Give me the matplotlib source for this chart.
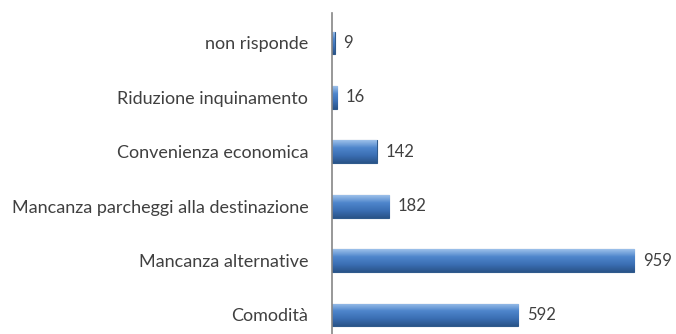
import numpy as np
import matplotlib.pyplot as plt
from matplotlib.colors import LinearSegmentedColormap

categories = [
    "non risponde",
    "Riduzione inquinamento",
    "Convenienza economica",
    "Mancanza parcheggi alla destinazione",
    "Mancanza alternative",
    "Comodità",
]
counts = [9, 16, 142, 182, 959, 592]

plt.rcParams["font.family"] = ["Lato", "DejaVu Sans"]

fig = plt.figure(figsize=(6.76, 3.34), dpi=100)
ax = fig.add_axes([0.491, 0.0, 0.509, 0.961])

y = np.arange(len(categories))
bar_h = 0.42

# vertical shading for the bars: light top, darker bottom
shade = LinearSegmentedColormap.from_list(
    "bar_shade", ["#9cc0ea", "#4f86cc", "#3b6fb4", "#2a5489"])
grad = np.linspace(0, 1, 64).reshape(-1, 1)

bars = ax.barh(y, counts, height=bar_h, color="#4a7cba",
               edgecolor="#2f5a8c", linewidth=0.8, zorder=2)
for bar in bars:
    x0, y0 = bar.get_x(), bar.get_y()
    w, h = bar.get_width(), bar.get_height()
    im = ax.imshow(grad, cmap=shade, aspect="auto",
                   extent=(x0, x0 + w, y0 + h, y0), zorder=2.5)
    im.set_clip_path(bar)

for yi, v in zip(y, counts):
    ax.text(v + 28, yi, str(v), va="center", ha="left",
            fontsize=12, color="#404040")

ax.set_xlim(0, 1092)
ax.set_ylim(5.35, -0.55)
ax.set_yticks(y)
ax.set_yticklabels(categories, fontsize=13, color="#404040")
ax.tick_params(axis="y", length=0, pad=17)
ax.set_xticks([])

for side in ["top", "right", "bottom"]:
    ax.spines[side].set_visible(False)
ax.spines["left"].set_color("#868686")
ax.spines["left"].set_linewidth(1.2)

fig.savefig("out.png", dpi=100)
